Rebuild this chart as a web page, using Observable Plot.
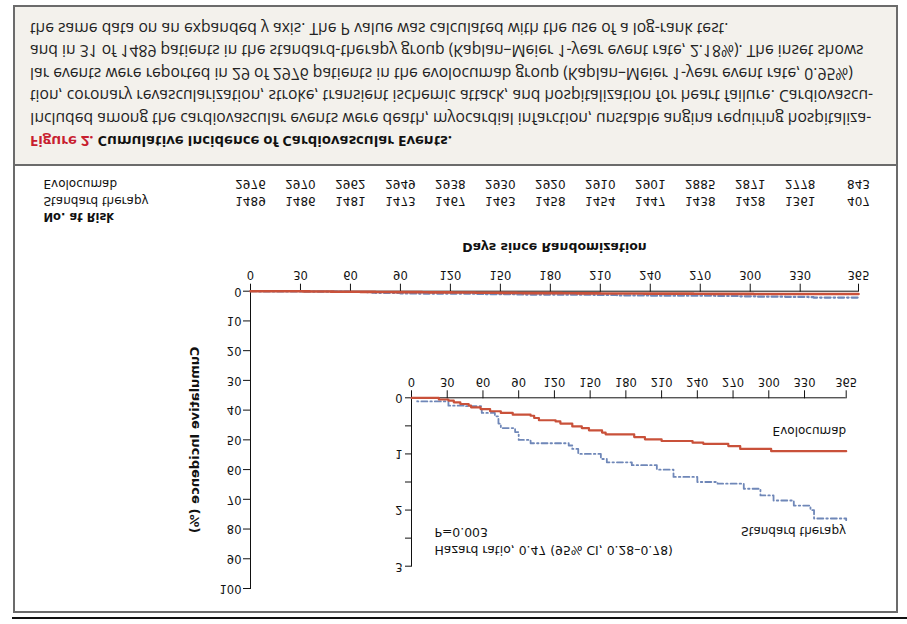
<!DOCTYPE html>
<html><head><meta charset="utf-8">
<script src="https://cdn.jsdelivr.net/npm/d3@7"></script>
<script src="https://cdn.jsdelivr.net/npm/@observablehq/plot@0.6"></script>
<style>
html,body{margin:0;padding:0;background:#fff;}
#page{position:relative;width:907px;height:624px;overflow:hidden;transform:scaleY(-1);transform-origin:50% 50%;}
.abs{position:absolute;}
.cap{position:absolute;left:30px;white-space:nowrap;font-family:"Open Sans",sans-serif;font-size:15.7px;line-height:20px;color:#222;}
.ttl{font-weight:bold;font-size:15px;color:#111;}
.ttl span{color:#c8202f;}
</style></head><body>
<div id="page">
  <div class="abs" style="left:12px;top:5px;width:895px;height:2px;background:#111"></div>
  <div class="abs" style="left:13px;top:11px;width:885px;height:608px;border:2.5px solid #6b6b6b;box-sizing:border-box;"></div>
  <div class="abs" style="left:13px;top:458px;width:885px;height:161px;background:#f3f1ec;border:2.5px solid #6b6b6b;box-sizing:border-box;"></div>
  <div id="main" class="abs" style="left:0;top:0"></div>
  <div id="inset" class="abs" style="left:380px;top:40px"></div>
  <div id="caption"></div>
</div>
<script>
// ---- data ----
const tickDays = [0, 30, 60, 90, 120, 150, 180, 210, 240, 270, 300, 330, 365];
const atRiskEvo = [2976, 2970, 2962, 2949, 2938, 2930, 2920, 2910, 2901, 2885, 2871, 2778, 843];
const atRiskStd = [1489, 1486, 1481, 1473, 1467, 1463, 1458, 1454, 1447, 1438, 1428, 1361, 407];
const evoDays = [0, 23, 31, 35.5, 41, 48, 50, 58, 66, 75, 85, 100, 103, 107, 121, 125, 135, 143, 149, 160, 163, 187, 196, 210, 236, 245, 266, 276, 302, 365];
const evoPct  = [0, 0.03, 0.05, 0.08, 0.11, 0.14, 0.17, 0.20, 0.24, 0.27, 0.30, 0.32, 0.36, 0.40, 0.42, 0.46, 0.51, 0.54, 0.58, 0.62, 0.65, 0.70, 0.74, 0.77, 0.80, 0.82, 0.86, 0.91, 0.95, 0.95];
const stdDays = [0, 4.8, 31, 45, 59, 70, 73, 75, 87, 90, 100, 132, 135, 140, 159, 164, 185, 206, 220, 240, 257, 279, 293, 304, 321, 335, 338, 365];
const stdPct  = [0, 0.065, 0.14, 0.15, 0.27, 0.33, 0.46, 0.54, 0.61, 0.75, 0.81, 0.85, 0.91, 1.00, 1.09, 1.15, 1.20, 1.28, 1.41, 1.50, 1.53, 1.62, 1.74, 1.83, 1.92, 2.00, 2.15, 2.18];
const seriesNames = ["Evolocumab", "Standard therapy"];
const mainYTicks = [0, 10, 20, 30, 40, 50, 60, 70, 80, 90, 100];
const insetYTicks = [0, 0.5, 1, 1.5, 2, 2.5, 3];
const statLines = ["P=0.003", "Hazard ratio, 0.47 (95% CI, 0.28\u20130.78)"];
const titleRed = "Figure 2.";
const titleRest = " Cumulative Incidence of Cardiovascular Events.";
const captionLines = [
  "Included among the cardiovascular events were death, myocardial infarction, unstable angina requiring hospitaliza-",
  "tion, coronary revascularization, stroke, transient ischemic attack, and hospitalization for heart failure. Cardiovascu-",
  "lar events were reported in 29 of 2976 patients in the evolocumab group (Kaplan\u2013Meier 1-year event rate, 0.95%)",
  "and in 31 of 1489 patients in the standard-therapy group (Kaplan\u2013Meier 1-year event rate, 2.18%). The inset shows",
  "the same data on an expanded y axis. The P value was calculated with the use of a log-rank test."
];

// ---- styles ----
const RED = "#c9513a", BLUE = "#6f87b8", FONT = "DejaVu Sans, sans-serif";
const evo = evoDays.map((d, i) => ({day: d, pct: evoPct[i]}));
const std = stdDays.map((d, i) => ({day: d, pct: stdPct[i]}));
const risk = tickDays.map((d, i) => ({day: d, evo: String(atRiskEvo[i]), std: String(atRiskStd[i])}));

// ---- main plot ----
const main = Plot.plot({
  width: 907, height: 459,
  marginLeft: 250, marginRight: 49, marginTop: 35, marginBottom: 126.7,
  style: {background: "transparent", overflow: "visible", fontFamily: FONT, color: "#111"},
  x: {domain: [0, 365]},
  y: {domain: [0, 100]},
  marks: [
    Plot.axisX({ticks: tickDays, tickSize: 8, tickPadding: 4, fontSize: 11.5, label: null, tickFormat: d => d}),
    Plot.axisY({ticks: mainYTicks, tickSize: 7, tickPadding: 2, fontSize: 11.5, label: null}),
    Plot.ruleY([0], {stroke: "#111"}),
    Plot.ruleX([0], {stroke: "#111"}),
    Plot.line(std, {x: "day", y: "pct", curve: "step-after", stroke: BLUE, strokeWidth: 2.2, strokeDasharray: "6,3,1.5,3"}),
    Plot.line(evo, {x: "day", y: "pct", curve: "step-after", stroke: RED, strokeWidth: 2.6}),
    Plot.text(["Days since Randomization"], {frameAnchor: "bottom", dy: 48, fontWeight: "bold", fontSize: 12.5}),
    Plot.text(["Cumulative Incidence (%)"], {frameAnchor: "left", textAnchor: "middle", rotate: -90, dx: -56, fontWeight: "bold", fontSize: 13}),
    Plot.text(["No. at Risk"], {frameAnchor: "bottom-left", textAnchor: "start", dx: -207, dy: 78, fontWeight: "bold", fontSize: 11.5}),
    Plot.text([seriesNames[1]], {frameAnchor: "bottom-left", textAnchor: "start", dx: -207, dy: 94, fontSize: 12}),
    Plot.text([seriesNames[0]], {frameAnchor: "bottom-left", textAnchor: "start", dx: -207, dy: 111, fontSize: 12}),
    Plot.text(risk, {x: "day", text: "std", frameAnchor: "bottom", dy: 94, fontSize: 12}),
    Plot.text(risk, {x: "day", text: "evo", frameAnchor: "bottom", dy: 111, fontSize: 12})
  ]
});
document.getElementById("main").appendChild(main);

// ---- inset plot ----
const inset = Plot.plot({
  width: 500, height: 220,
  marginLeft: 31, marginRight: 34.3, marginTop: 17.3, marginBottom: 34.3,
  style: {background: "transparent", overflow: "visible", fontFamily: FONT, color: "#111"},
  x: {domain: [0, 365]},
  y: {domain: [0, 3]},
  marks: [
    Plot.axisX({ticks: tickDays, tickSize: 8, tickPadding: 4, fontSize: 11.5, label: null, tickFormat: d => d}),
    Plot.axisY({ticks: insetYTicks, tickSize: 6, tickPadding: 3, fontSize: 11.5, label: null, tickFormat: d => Number.isInteger(d) ? d : ""}),
    Plot.ruleY([0], {stroke: "#111"}),
    Plot.ruleX([0], {stroke: "#111"}),
    Plot.line(std, {x: "day", y: "pct", curve: "step-after", stroke: BLUE, strokeWidth: 1.8, strokeDasharray: "6,3,1.5,3"}),
    Plot.line(evo, {x: "day", y: "pct", curve: "step-after", stroke: RED, strokeWidth: 2.2}),
    Plot.text([evo[evo.length - 1]], {x: "day", y: "pct", text: () => seriesNames[0], textAnchor: "end", dy: 20, fontSize: 12}),
    Plot.text([std[std.length - 1]], {x: "day", y: "pct", text: () => seriesNames[1], textAnchor: "end", dy: -10.5, fontSize: 12}),
    Plot.text([statLines[0]], {frameAnchor: "top-left", textAnchor: "start", dx: 23, dy: 29, fontSize: 12.4}),
    Plot.text([statLines[1]], {frameAnchor: "top-left", textAnchor: "start", dx: 23, dy: 11.5, fontSize: 12.4})
  ]
});
document.getElementById("inset").appendChild(inset);

// ---- caption ----
const cap = document.getElementById("caption");
const t = document.createElement("div");
t.className = "cap ttl";
t.style.top = (482 - 10) + "px";
t.innerHTML = "<span></span>";
t.firstChild.textContent = titleRed;
t.appendChild(document.createTextNode(titleRest));
cap.appendChild(t);
const ys = [505, 527.5, 550, 572.5, 595];
captionLines.forEach((line, i) => {
  const d = document.createElement("div");
  d.className = "cap";
  d.style.top = (ys[i] - 10) + "px";
  d.textContent = line;
  cap.appendChild(d);
});
</script>
</body></html>
